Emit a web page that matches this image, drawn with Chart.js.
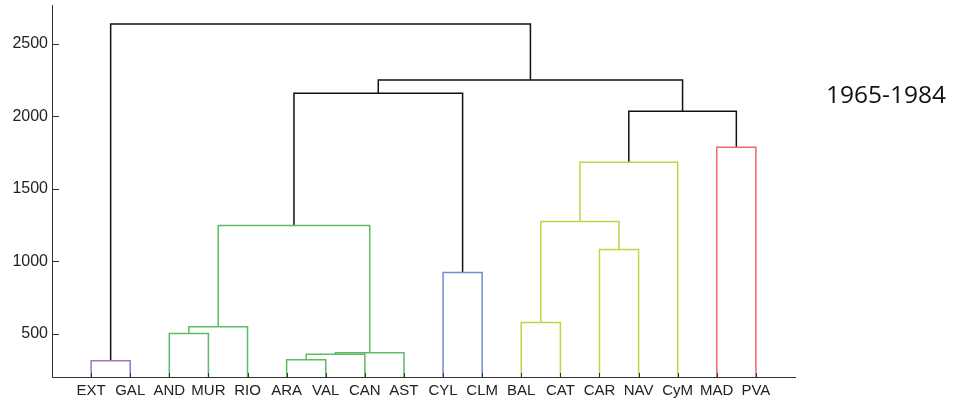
<!DOCTYPE html>
<html>
<head>
<meta charset="utf-8">
<script src="https://cdn.jsdelivr.net/npm/chart.js@4/dist/chart.umd.min.js"></script>
<style>
  body { margin: 0; background: #fff; }
  #wrap { position: relative; width: 958px; height: 403px; }
  #periodo { position: absolute; left: 826px; top: 77px; font-family: 'Open Sans', sans-serif; font-size: 24.5px; color: #111; }
</style>
</head>
<body>
<div id="wrap">
  <canvas id="Dendro" width="958" height="403"></canvas>
  <div id="periodo">1965-1984</div>
</div>
<script>
// hojas en orden del dendrograma
var hojas = ['EXT', 'GAL', 'AND', 'MUR', 'RIO', 'ARA', 'VAL', 'CAN', 'AST', 'CYL', 'CLM', 'BAL', 'CAT', 'CAR', 'NAV', 'CyM', 'MAD', 'PVA'];

// uniones: nodo izq, nodo der (1..18 hojas, 19+ grupos), altura
var unionIzq = [1, 3, 20, 6, 22, 23, 21, 10, 12, 14, 27, 29, 17, 30, 25, 33, 19];
var unionDer = [2, 4, 5, 7, 8, 9, 24, 11, 13, 15, 28, 16, 18, 31, 26, 32, 34];
var alturas  = [313, 500, 548, 320, 358, 367, 1247, 922, 576, 1081, 1275, 1683, 1787, 2036, 2161, 2251, 2638];
var colores  = ['#a074c4', '#5dbb63', '#5dbb63', '#5dbb63', '#5dbb63', '#5dbb63', '#5dbb63', '#6b8fd0',
                '#bcd64a', '#bcd64a', '#bcd64a', '#bcd64a', '#f06a6a', '#111', '#111', '#111', '#111'];

var yTicks = [500, 1000, 1500, 2000, 2500];

// posicion x y altura de cada nodo
var posX = {}, posY = {};
for (var i = 0; i < hojas.length; i++) { posX[i + 1] = i + 1; posY[i + 1] = 0; }

var datasets = [];
for (var k = 0; k < alturas.length; k++) {
    var a = unionIzq[k], b = unionDer[k], h = alturas[k];
    datasets.push({
        data: [{x: posX[a], y: posY[a]}, {x: posX[a], y: h}, {x: posX[b], y: h}, {x: posX[b], y: posY[b]}],
        borderColor: colores[k],
        borderWidth: 1.5,
        showLine: true,
        pointRadius: 0,
        fill: false
    });
    var n = hojas.length + k + 1;
    posX[n] = (posX[a] + posX[b]) / 2;
    posY[n] = h;
}

// marcas hacia dentro de los ejes
const marcas = {
    id: 'marcas',
    afterDraw(chart) {
        const ctx = chart.ctx, xs = chart.scales.x, ys = chart.scales.y;
        ctx.save();
        ctx.strokeStyle = '#333';
        ctx.lineWidth = 1;
        ctx.beginPath();
        yTicks.forEach(v => {
            var py = Math.round(ys.getPixelForValue(v)) + 0.5;
            ctx.moveTo(ys.right, py); ctx.lineTo(ys.right + 7, py);
        });
        for (var i = 1; i <= hojas.length; i++) {
            var px = Math.round(xs.getPixelForValue(i)) + 0.5;
            ctx.moveTo(px, xs.top); ctx.lineTo(px, xs.top - 4);
        }
        ctx.stroke();
        ctx.restore();
    }
};

const config = {
    type: 'scatter',
    data: { datasets: datasets },
    options: {
        responsive: false,
        animation: false,
        layout: { padding: { top: 5, right: 163, left: 0, bottom: 0 } },
        plugins: { legend: { display: false }, tooltip: { enabled: false } },
        scales: {
            x: {
                type: 'linear', min: 0, max: 19,
                grid: { display: false, drawTicks: false },
                border: { display: true, color: '#333', width: 1 },
                afterBuildTicks: s => { s.ticks = hojas.map((h, i) => ({ value: i + 1 })); },
                afterFit: s => { s.height = 26; s.paddingLeft = 0; s.paddingRight = 0; },
                ticks: {
                    autoSkip: false, maxRotation: 0, padding: 5,
                    color: '#222', font: { family: 'Liberation Sans', size: 15 },
                    callback: v => hojas[v - 1] || ''
                }
            },
            y: {
                min: 200, max: 2770,
                grid: { display: false, drawTicks: false },
                border: { display: true, color: '#333', width: 1 },
                afterBuildTicks: s => { s.ticks = yTicks.map(v => ({ value: v })); },
                afterFit: s => { s.width = 52; s.paddingTop = 0; s.paddingBottom = 0; },
                ticks: {
                    padding: 4,
                    color: '#222', font: { family: 'Liberation Sans', size: 16 },
                    callback: v => String(v)
                }
            }
        }
    },
    plugins: [marcas]
};

const myChart = new Chart(document.getElementById('Dendro'), config);
</script>
</body>
</html>
